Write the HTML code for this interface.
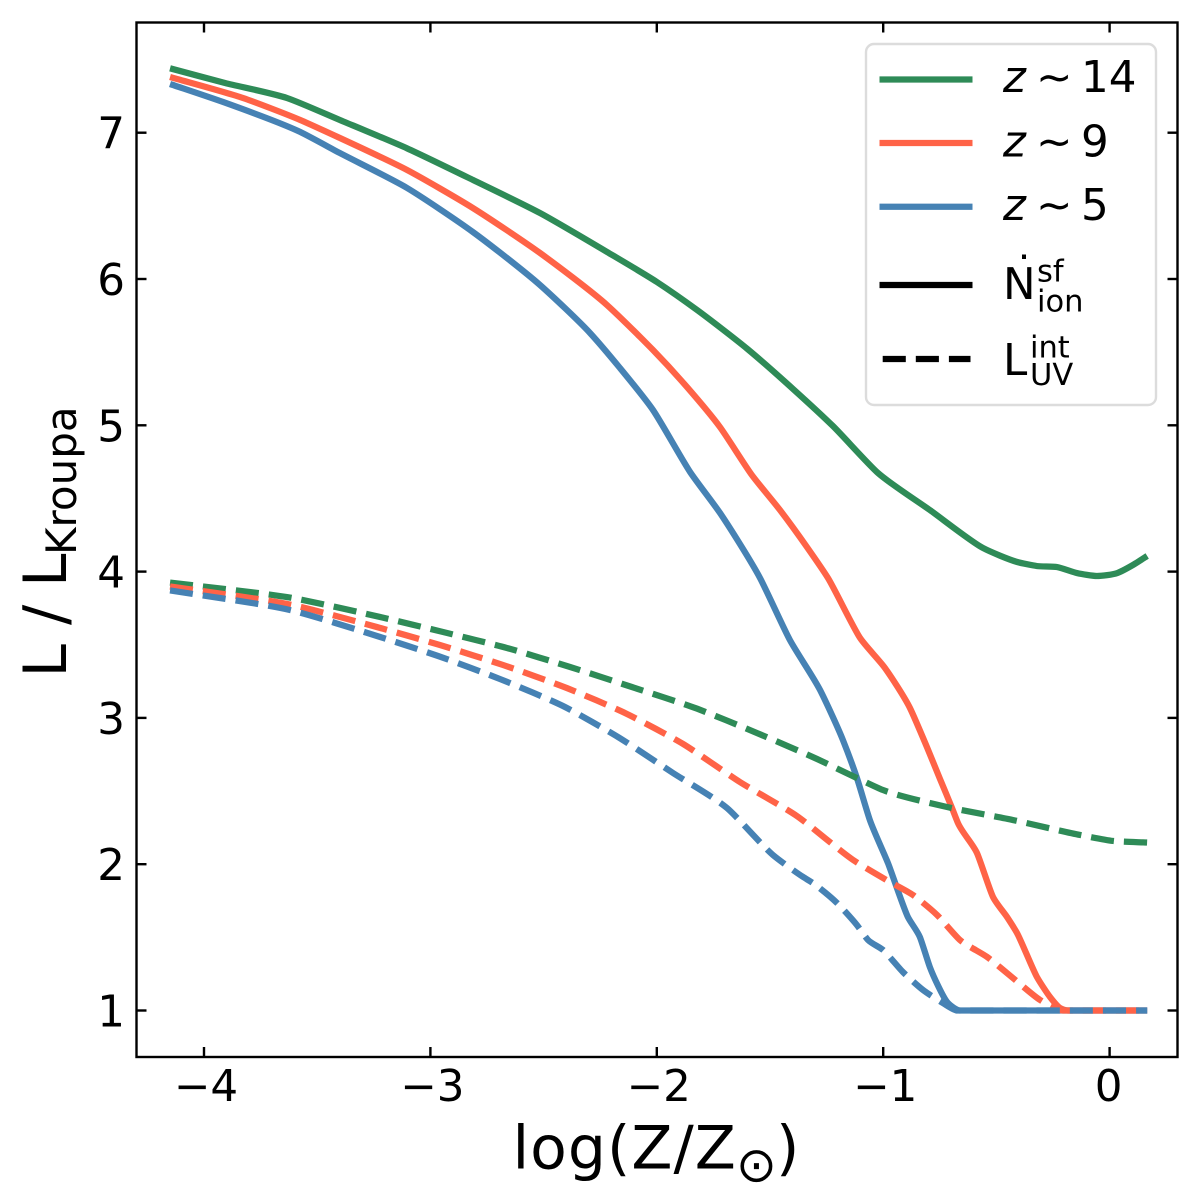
<!DOCTYPE html>
<html lang="en">
<head>
<meta charset="utf-8">
<title>L / L_Kroupa vs metallicity</title>
<style>
html,body{margin:0;padding:0;background:#fff;}
svg{display:block;}
text{font-family:"DejaVu Sans","Liberation Sans",sans-serif;fill:#000;}
</style>
</head>
<body>
<svg id="chart" xmlns="http://www.w3.org/2000/svg" width="1200" height="1196" viewBox="0 0 1200 1196">
  <rect x="0" y="0" width="1200" height="1196" fill="#fff"/>
  <g id="series-layer"></g>
  <g id="tick-layer"></g>
  <rect x="136.5" y="22.5" width="1041" height="1034.5" fill="none" stroke="#000" stroke-width="2.4"/>

  <g>
    <text transform="translate(66,677.5) rotate(-90)" font-size="60">L</text>
    <text transform="translate(66,625) rotate(-90)" font-size="60">/</text>
    <text transform="translate(66,587) rotate(-90)" font-size="60">L</text>
    <text transform="translate(76,555) rotate(-90)" font-size="42">Kroupa</text>
  </g>

  <g>
    <text x="512.5" y="1168.3" font-size="60" letter-spacing="1">log(Z/Z</text>
    <text x="736" y="1181.6" font-size="48.7">⊙</text>
    <text x="776" y="1168.3" font-size="60">)</text>
  </g>

  <g>
    <rect x="866" y="44" width="290" height="361" rx="8" ry="8" fill="#fff" stroke="#dcdcdc" stroke-width="2.4"/>
    <line x1="879.5" x2="972.5" y1="79.5" y2="79.5" stroke="#2e8b57" stroke-width="6.25"/>
    <text y="92" font-size="43.6"><tspan x="1003" font-style="italic">z</tspan><tspan x="1036">∼</tspan><tspan x="1081">14</tspan></text>
    <line x1="879.5" x2="972.5" y1="143" y2="143" stroke="#ff6347" stroke-width="6.25"/>
    <text y="156.5" font-size="43.6"><tspan x="1003" font-style="italic">z</tspan><tspan x="1036">∼</tspan><tspan x="1081">9</tspan></text>
    <line x1="879.5" x2="972.5" y1="206.7" y2="206.7" stroke="#4682b4" stroke-width="6.25"/>
    <text y="220" font-size="43.6"><tspan x="1003" font-style="italic">z</tspan><tspan x="1036">∼</tspan><tspan x="1081">5</tspan></text>
    <line x1="879.5" x2="972.5" y1="285" y2="285" stroke="#000" stroke-width="6.25"/>
    <text x="1003" y="299" font-size="43.6">N</text>
    <rect x="1022" y="254.5" width="4" height="4.5" fill="#000"/>
    <text x="1037" y="281.7" font-size="30.5">sf</text>
    <text x="1037" y="311.7" font-size="30.5">ion</text>
    <line x1="882.7" x2="970.5" y1="359" y2="359" stroke="#000" stroke-width="6.25" stroke-dasharray="23.1 10"/>
    <text x="1003" y="375" font-size="43.6">L</text>
    <text x="1030" y="357.7" font-size="30.5">int</text>
    <text x="1030" y="385" font-size="30.5">UV</text>
  </g>
</svg>
<script>
const xTicks = [-4, -3, -2, -1, 0];
const yTicks = [1, 2, 3, 4, 5, 6, 7];

const z14SolidX = [-4.15,-3.907,-3.633,-3.40,-3.103,-2.812,-2.516,-2.22,-2.0,-1.822,-1.60,-1.398,-1.222,-1.023,-0.794,-0.559,-0.409,-0.321,-0.232,-0.144,-0.056,0.034,0.103,0.166];
const z14SolidY = [7.44,7.34,7.237,7.087,6.893,6.677,6.451,6.185,5.98,5.788,5.522,5.248,4.995,4.674,4.421,4.161,4.066,4.038,4.031,3.99,3.97,3.99,4.045,4.107];

const z9SolidX = [-4.15,-3.827,-3.575,-3.40,-3.103,-2.812,-2.516,-2.22,-2.074,-2.017,-1.867,-1.721,-1.58,-1.456,-1.337,-1.244,-1.102,-0.992,-0.882,-0.807,-0.749,-0.696,-0.67,-0.586,-0.515,-0.453,-0.409,-0.321,-0.263,-0.219,-0.184,0.166];
const z9SolidY = [7.381,7.237,7.087,6.964,6.745,6.485,6.178,5.822,5.604,5.515,5.262,4.988,4.66,4.421,4.168,3.956,3.546,3.341,3.068,2.801,2.582,2.384,2.282,2.077,1.776,1.639,1.53,1.229,1.092,1.017,1,1];

const z5SolidX = [-4.15,-3.916,-3.575,-3.40,-3.103,-2.812,-2.516,-2.295,-2.163,-2.017,-1.853,-1.721,-1.544,-1.412,-1.279,-1.178,-1.116,-1.059,-0.979,-0.891,-0.838,-0.794,-0.718,-0.661,0.166];
const z5SolidY = [7.333,7.21,7.005,6.861,6.622,6.321,5.959,5.631,5.392,5.105,4.681,4.401,3.956,3.532,3.191,2.849,2.589,2.302,2.008,1.639,1.502,1.297,1.058,1,1];

const z14DashedX = [-4.15,-3.611,-3.223,-2.944,-2.662,-2.383,-2.11,-1.831,-1.558,-1.292,-1.116,-1.001,-0.718,-0.427,-0.131,0.015,0.166];
const z14DashedY = [3.925,3.82,3.69,3.587,3.478,3.348,3.211,3.068,2.897,2.719,2.589,2.507,2.391,2.302,2.2,2.159,2.148];

const z9DashedX = [-4.15,-3.611,-3.236,-2.958,-2.68,-2.397,-2.14,-1.884,-1.633,-1.381,-1.133,-0.97,-0.868,-0.762,-0.661,-0.541,-0.427,-0.307,-0.206,0.166];
const z9DashedY = [3.898,3.772,3.621,3.498,3.362,3.204,3.033,2.822,2.562,2.329,2.029,1.878,1.789,1.653,1.482,1.366,1.222,1.072,1,1];

const z5DashedX = [-4.15,-3.611,-3.236,-2.966,-2.693,-2.405,-2.171,-1.928,-1.69,-1.487,-1.354,-1.31,-1.204,-1.116,-1.067,-1.001,-0.913,-0.824,-0.736,-0.674,0.166];
const z5DashedY = [3.871,3.734,3.56,3.423,3.266,3.074,2.869,2.623,2.384,2.063,1.913,1.871,1.735,1.584,1.482,1.414,1.263,1.14,1.051,1,1];

const SVG_NS = 'http://www.w3.org/2000/svg';
const seriesLayer = document.getElementById('series-layer');
const tickLayer = document.getElementById('tick-layer');

function xAxis(v) { return 1109.6 + 226.4 * v; }
function yAxis(v) { return 1010.5 - 146.3 * (v - 1); }

/* Lightly rounded path through the scaled data points: short control handles keep corners gentle */
function curvePath(xs, ys) {
  const px = xs.map(xAxis);
  const py = ys.map(yAxis);
  const n = px.length;
  const slopes = [];
  for (let i = 0; i < n - 1; i++) {
    slopes.push((py[i + 1] - py[i]) / (px[i + 1] - px[i]));
  }
  const tangents = [slopes[0]];
  for (let i = 1; i < n - 1; i++) {
    const a = slopes[i - 1];
    const b = slopes[i];
    if (a * b <= 0) {
      tangents.push(0);
    } else {
      const ha = px[i] - px[i - 1];
      const hb = px[i + 1] - px[i];
      const p = (a * hb + b * ha) / (ha + hb);
      const limit = 3 * Math.min(Math.abs(a), Math.abs(b));
      tangents.push(Math.sign(p) * Math.min(Math.abs(p), limit));
    }
  }
  tangents.push(slopes[n - 2]);
  let d = 'M' + px[0].toFixed(2) + ',' + py[0].toFixed(2);
  for (let i = 0; i < n - 1; i++) {
    const h = (px[i + 1] - px[i]) * 0.22;
    d += 'C' + (px[i] + h).toFixed(2) + ',' + (py[i] + tangents[i] * h).toFixed(2) +
         ' ' + (px[i + 1] - h).toFixed(2) + ',' + (py[i + 1] - tangents[i + 1] * h).toFixed(2) +
         ' ' + px[i + 1].toFixed(2) + ',' + py[i + 1].toFixed(2);
  }
  return d;
}

function drawLine(xs, ys, color, dashed) {
  const line = document.createElementNS(SVG_NS, 'path');
  line.setAttribute('d', curvePath(xs, ys));
  line.setAttribute('fill', 'none');
  line.setAttribute('stroke', color);
  line.setAttribute('stroke-width', '6.25');
  line.setAttribute('stroke-linejoin', 'round');
  if (dashed) {
    line.setAttribute('stroke-dasharray', '23.1 10');
  }
  seriesLayer.appendChild(line);
  return line;
}

const lineZ14Solid = drawLine(z14SolidX, z14SolidY, '#2e8b57', false);


const lineZ9Solid = drawLine(z9SolidX, z9SolidY, '#ff6347', false);


const lineZ5Solid = drawLine(z5SolidX, z5SolidY, '#4682b4', false);


const lineZ14Dashed = drawLine(z14DashedX, z14DashedY, '#2e8b57', true);


const lineZ9Dashed = drawLine(z9DashedX, z9DashedY, '#ff6347', true);


const lineZ5Dashed = drawLine(z5DashedX, z5DashedY, '#4682b4', true);



function tickMark(x1, y1, x2, y2) {
  const t = document.createElementNS(SVG_NS, 'line');
  t.setAttribute('x1', x1);
  t.setAttribute('y1', y1);
  t.setAttribute('x2', x2);
  t.setAttribute('y2', y2);
  t.setAttribute('stroke', '#000');
  t.setAttribute('stroke-width', '2.4');
  
  
  tickLayer.appendChild(t);
}

function tickLabel(x, y, str, anchor) {
  const t = document.createElementNS(SVG_NS, 'text');
  t.setAttribute('x', x);
  t.setAttribute('y', y);
  t.setAttribute('font-size', '43.6');
  t.setAttribute('text-anchor', anchor);
  
  
  t.textContent = str;
  tickLayer.appendChild(t);
}

xTicks.forEach(function (v) {
  const px = xAxis(v);
  tickMark(px, 1057, px, 1047);
  tickMark(px, 22.5, px, 32.5);
  tickLabel(v < 0 ? px + 2 : px - 1, 1101, v < 0 ? '\u2212' + Math.abs(v) : String(v), 'middle');
});

yTicks.forEach(function (v) {
  const py = yAxis(v);
  tickMark(136.5, py, 146.5, py);
  tickMark(1177.5, py, 1167.5, py);
  tickLabel(125, py + 16, String(v), 'end');
});
</script>
</body>
</html>
